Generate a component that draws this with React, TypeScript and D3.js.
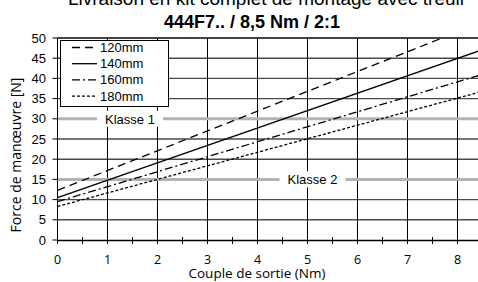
import * as d3 from "d3";

// values (force in N vs output torque in Nm)
const sizes = ["120mm", "140mm", "160mm", "180mm"];
const torque = [0, 8.5];
const force120 = [12.3, 53.95];
const force140 = [10.5, 47.1];
const force160 = [9.5, 41.0];
const force180 = [8.3, 36.8];
const xTicks = [0, 1, 2, 3, 4, 5, 6, 7, 8];
const xMinor = [0.5, 1.5, 2.5, 3.5, 4.5, 5.5, 6.5, 7.5];
const yTicks = [0, 5, 10, 15, 20, 25, 30, 35, 40, 45, 50];
const classes = [
  { label: "Klasse 1", value: 30, at: 1.45 },
  { label: "Klasse 2", value: 15, at: 5.1 },
];

const W = 478;
const H = 282;
const arial = "'Liberation Sans', Arial, sans-serif";
const myriad = "'Open Sans', 'Noto Sans', sans-serif";

const dashes = ["8,5", "", "8,3,2,3", "3,2"];

const App = () => {
  const x = d3.scaleLinear().domain([0, 8.5]).range([57.5, 482.5]);
  const y = d3.scaleLinear().domain([0, 50]).range([240, 38]);
  const series = [force120, force140, force160, force180];

  const line = d3
    .line<[number, number]>()
    .x((d) => x(d[0]))
    .y((d) => y(d[1]));

  const left = x(0);
  const top = y(50);
  const bottom = y(0);

  return (
    <svg
      width={W}
      height={H}
      style={{ position: "absolute", left: 0, top: 0, background: "white" }}
    >
      <defs>
        <clipPath id="plot">
          <rect x={left} y={top} width={x(8.5) - left} height={bottom - top} />
        </clipPath>
      </defs>

      <text
        x={266}
        y={5}
        textAnchor="middle"
        fontFamily={arial}
        fontSize={19}
      >
        Livraison en kit complet de montage avec treuil
      </text>
      <text
        x={252}
        y={28}
        textAnchor="middle"
        fontFamily={arial}
        fontSize={18}
        fontWeight="bold"
      >
        444F7.. / 8,5 Nm / 2:1
      </text>

      {/* horizontal grid */}
      {yTicks
        .filter((t) => t > 0)
        .map((t) => (
          <line
            key={"h" + t}
            x1={left}
            x2={W}
            y1={y(t)}
            y2={y(t)}
            stroke={t === 50 ? "#444" : "#4a4a4a"}
            strokeWidth={t === 50 ? 2 : 1.4}
          />
        ))}
      {/* vertical grid */}
      {xTicks
        .filter((t) => t > 0)
        .map((t) => (
          <line
            key={"v" + t}
            x1={x(t)}
            x2={x(t)}
            y1={top}
            y2={bottom}
            stroke="#000"
            strokeWidth={1}
          />
        ))}

      {/* class limits */}
      {classes.map((c) => (
        <g key={c.label}>
          <line
            x1={left}
            x2={W}
            y1={y(c.value)}
            y2={y(c.value)}
            stroke="#b3b3b3"
            strokeWidth={3}
          />
          <rect
            x={x(c.at) - 33}
            y={y(c.value) - 8}
            width={66}
            height={16}
            fill="white"
          />
          <text
            x={x(c.at)}
            y={y(c.value) + 5}
            textAnchor="middle"
            fontFamily={arial}
            fontSize={13}
          >
            {c.label}
          </text>
        </g>
      ))}

      {/* data lines */}
      <g clipPath="url(#plot)">
        {series.map((s, i) => (
          <path
            key={sizes[i]}
            d={line(torque.map((t, j) => [t, s[j]] as [number, number])) ?? ""}
            fill="none"
            stroke="#000"
            strokeWidth={1.3}
            strokeDasharray={dashes[i]}
          />
        ))}
      </g>

      {/* legend */}
      <rect x={60.5} y={40.5} width={108} height={66} fill="white" stroke="#000" />
      {sizes.map((s, i) => (
        <g key={"lg" + s} transform={`translate(0, ${47.5 + i * 16.2})`}>
          <line
            x1={72}
            x2={97}
            y1={0}
            y2={0}
            stroke="#000"
            strokeWidth={1.3}
            strokeDasharray={dashes[i]}
          />
          <text x={100} y={4.5} fontFamily={arial} fontSize={13}>
            {s}
          </text>
        </g>
      ))}

      {/* y axis */}
      <line x1={left} x2={left} y1={top} y2={bottom} stroke="#000" />
      {yTicks.map((t) => (
        <g key={"yt" + t}>
          <line x1={left - 5} x2={left} y1={y(t)} y2={y(t)} stroke="#000" />
          <text
            x={46}
            y={y(t) + 4.5}
            textAnchor="end"
            fontFamily={arial}
            fontSize={13}
          >
            {t}
          </text>
        </g>
      ))}

      {/* x axis */}
      <line x1={left} x2={W} y1={bottom + 0.5} y2={bottom + 0.5} stroke="#000" strokeWidth={1.4} />
      {xTicks.concat(xMinor).map((t) => (
        <line
          key={"xt" + t}
          x1={x(t)}
          x2={x(t)}
          y1={bottom - 3}
          y2={bottom + 4}
          stroke="#000"
        />
      ))}
      {xTicks.map((t) => (
        <text
          key={"xl" + t}
          x={x(t)}
          y={264}
          textAnchor="middle"
          fontFamily={myriad}
          fontSize={12.5}
        >
          {t}
        </text>
      ))}

      <text
        x={257}
        y={278}
        textAnchor="middle"
        fontFamily={myriad}
        fontSize={13.5}
      >
        Couple de sortie (Nm)
      </text>
      <text
        transform={`translate(21, 155) rotate(-90)`}
        textAnchor="middle"
        fontFamily={myriad}
        fontSize={14}
      >
        Force de manœuvre [N]
      </text>
    </svg>
  );
};

export default App;
